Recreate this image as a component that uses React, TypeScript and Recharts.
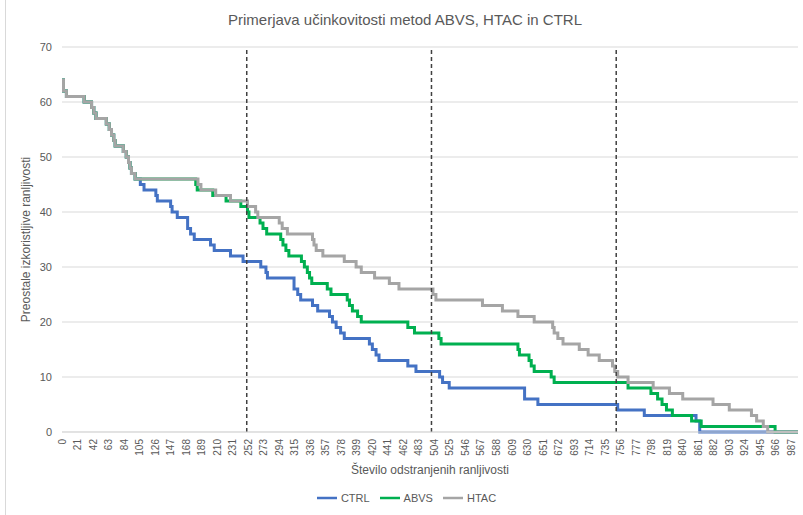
import { LineChart, Line, XAxis, YAxis, CartesianGrid, ReferenceLine, Legend } from "recharts";

// breakpoints of the step curves: x = removed vulnerabilities, y = remaining exploitable ones
const CTRL_X = [0, 2, 6, 30, 40, 43, 46, 60, 64, 67, 70, 72, 83, 87, 90, 92, 94, 99,
  106, 111, 127, 129, 147, 149, 156, 170, 174, 179, 201, 206, 228, 245, 269, 276, 278, 314, 319, 323,
  339, 346, 362, 366, 371, 377, 382, 416, 420, 425, 429, 468, 479, 511, 515, 524, 626, 644, 752, 788,
  858, 863, 996];
const CTRL_Y = [64, 62, 61, 60, 59, 58, 57, 56, 55, 54, 53, 52, 51, 50, 49, 48, 47, 46,
  45, 44, 43, 42, 41, 40, 39, 37, 36, 35, 34, 33, 32, 31, 30, 29, 28, 26, 25, 24,
  23, 22, 21, 20, 19, 18, 17, 16, 15, 14, 13, 12, 11, 10, 9, 8, 6, 5, 4, 3,
  2, 0, 0];

const ABVS_X = [0, 2, 6, 30, 40, 43, 46, 60, 64, 67, 70, 72, 83, 87, 90, 92, 94, 99,
  181, 183, 204, 222, 242, 251, 253, 268, 272, 277, 296, 299, 303, 307, 324, 328, 332, 335, 338, 359,
  364, 386, 389, 393, 400, 405, 468, 477, 510, 513, 617, 619, 632, 635, 639, 662, 666, 766, 797, 806,
  812, 818, 826, 852, 865, 965, 996];
const ABVS_Y = [64, 62, 61, 60, 59, 58, 57, 56, 55, 54, 53, 52, 51, 50, 49, 48, 47, 46,
  45, 44, 43, 42, 41, 40, 39, 38, 37, 36, 35, 34, 33, 32, 31, 30, 29, 28, 27, 26,
  25, 24, 23, 22, 21, 20, 19, 18, 17, 16, 15, 14, 13, 12, 11, 10, 9, 8, 7, 6,
  5, 4, 3, 2, 1, 0, 0];

const HTAC_X = [0, 2, 6, 30, 40, 43, 46, 60, 64, 67, 70, 72, 83, 87, 90, 92, 94, 99,
  184, 188, 208, 228, 251, 262, 265, 294, 298, 305, 339, 341, 344, 353, 382, 398, 405, 423, 443, 456,
  502, 506, 569, 596, 617, 639, 664, 666, 671, 678, 700, 712, 727, 745, 748, 752, 766, 800, 822, 840,
  881, 903, 933, 940, 949, 955, 996];
const HTAC_Y = [64, 62, 61, 60, 59, 58, 57, 56, 55, 54, 53, 52, 51, 50, 49, 48, 47, 46,
  45, 44, 43, 42, 41, 40, 39, 38, 37, 36, 35, 34, 33, 32, 31, 30, 29, 28, 27, 26,
  25, 24, 23, 22, 21, 20, 19, 18, 17, 16, 15, 14, 13, 12, 11, 10, 9, 8, 7, 6,
  5, 4, 3, 2, 1, 0, 0];

const X_TICKS = [0, 21, 42, 63, 84, 105, 126, 147, 168, 189, 210, 231, 252, 273, 294, 315, 336, 357,
  378, 399, 420, 441, 462, 483, 504, 525, 546, 567, 588, 609, 630, 651, 672, 693, 714, 735, 756, 777,
  798, 819, 840, 861, 882, 903, 924, 945, 966, 987];
const Y_TICKS = [0, 10, 20, 30, 40, 50, 60, 70];
const MARKERS = [250, 500, 750];
const LEGEND_ORDER = ["CTRL", "ABVS", "HTAC"];

const toPoints = (xs: number[], ys: number[]) => xs.map((x, i) => ({ x, y: ys[i] }));

const SERIES = [
  { name: "CTRL", color: "#4472C4", data: toPoints(CTRL_X, CTRL_Y) },
  { name: "ABVS", color: "#00B050", data: toPoints(ABVS_X, ABVS_Y) },
  { name: "HTAC", color: "#A5A5A5", data: toPoints(HTAC_X, HTAC_Y) },
];

const TEXT = "#595959";
const FONT = "'Liberation Sans', Arial, sans-serif";

const XTick = ({ x, y, payload }: any) => (
  <text
    x={x}
    y={y}
    transform={`rotate(-90 ${x} ${y})`}
    textAnchor="end"
    dy="0.35em"
    fill={TEXT}
    fontSize={10}
    fontFamily={FONT}
  >
    {payload.value}
  </text>
);

export default function App() {
  return (
    <div style={{ position: "absolute", left: 0, top: 0, width: 803, height: 515, background: "#fff", fontFamily: FONT }}>
      <div style={{ position: "absolute", left: 5, top: 0, height: 515, borderLeft: "1px solid #d9d9d9" }} />
      <div style={{ position: "absolute", left: 0, top: 11, width: 810, textAlign: "center", fontSize: 15, color: TEXT }}>
        Primerjava učinkovitosti metod ABVS, HTAC in CTRL
      </div>
      <LineChart width={803} height={515} margin={{ top: 47, right: 5, bottom: 23, left: 0 }} style={{ position: "absolute", left: 0, top: 0 }}>
        <CartesianGrid vertical={false} stroke="#d9d9d9" />
        <XAxis
          type="number"
          dataKey="x"
          domain={[0, 996]}
          ticks={X_TICKS}
          interval={0}
          tick={<XTick />}
          tickLine={false}
          tickMargin={1}
          axisLine={{ stroke: "#d9d9d9" }}
          height={60}
          allowDataOverflow
          label={{ value: "Število odstranjenih ranljivosti", position: "insideBottom", offset: 18, fill: TEXT, fontSize: 12 }}
        />
        <YAxis
          type="number"
          domain={[0, 70]}
          ticks={Y_TICKS}
          tickLine={false}
          axisLine={false}
          tickMargin={4}
          width={62}
          tick={{ fill: TEXT, fontSize: 11 }}
          label={{ value: "Preostale izkoristljive ranljivosti", angle: -90, position: "insideLeft", offset: 26, fill: TEXT, fontSize: 12, style: { textAnchor: "middle" } }}
        />
        {SERIES.map((s) => (
          <Line
            key={s.name}
            name={s.name}
            data={s.data}
            dataKey="y"
            type="stepAfter"
            stroke={s.color}
            strokeWidth={3}
            dot={false}
            activeDot={false}
            isAnimationActive={false}
          />
        ))}
        {MARKERS.map((m) => (
          <ReferenceLine key={m} x={m} stroke="#404040" strokeWidth={1.5} strokeDasharray="4 3" />
        ))}
        <Legend
          verticalAlign="middle"
          align="center"
          layout="horizontal"
          iconType="plainline"
          iconSize={20}
          itemSorter={(item: any) => LEGEND_ORDER.indexOf(item.value)}
          wrapperStyle={{ top: 488, left: 10, width: 803 }}
          formatter={(v: string) => <span style={{ color: TEXT, fontSize: 11 }}>{v}</span>}
        />
      </LineChart>
    </div>
  );
}
